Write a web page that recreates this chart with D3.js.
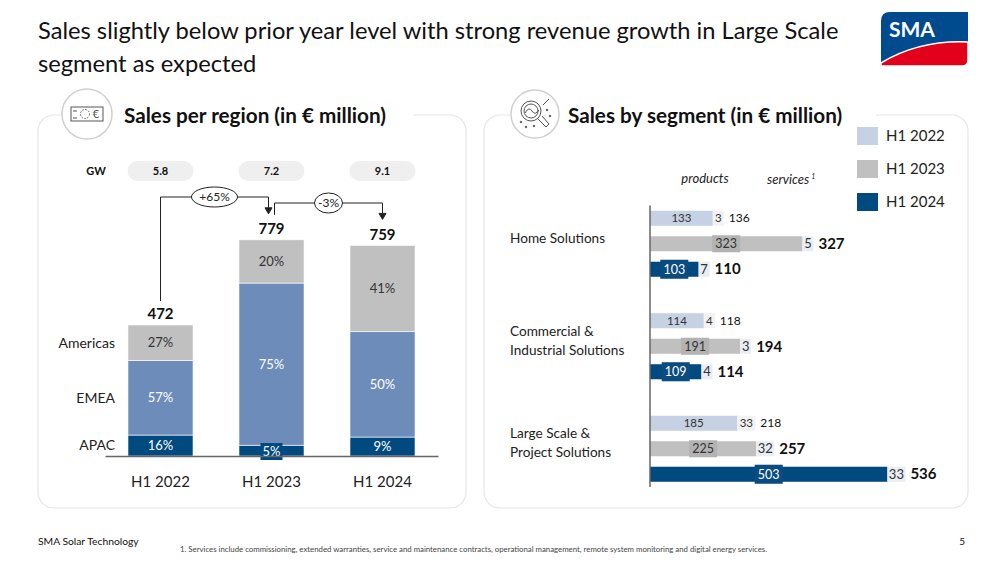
<!DOCTYPE html>
<html>
  <head>
    <title>SMA sales H1 2024</title>
    <script src="https://d3js.org/d3.v7.min.js"></script>
    <style>
      body { margin: 0; background: #fff; }
      svg { display: block; font-family: Lato, 'Noto Sans', sans-serif; }
    </style>
  </head>
  <body>
    <svg width="1000" height="563"></svg>

    <script>
      (function (d3) {
        'use strict';

        // ---- data ----
        const years = ['H1 2022', 'H1 2023', 'H1 2024'];
        const gwValues = ['5.8', '7.2', '9.1'];
        const regionTotals = [472, 779, 759];
        const regions = ['APAC', 'EMEA', 'Americas'];
        const apacShare = [16, 5, 9];
        const emeaShare = [57, 75, 50];
        const americasShare = [27, 20, 41];
        const growthLabels = ['+65%', '-3%'];

        const segments = ['Home Solutions', 'Commercial & Industrial Solutions', 'Large Scale & Project Solutions'];
        const segmentLines = [['Home Solutions'], ['Commercial &', 'Industrial Solutions'], ['Large Scale &', 'Project Solutions']];
        const homeProducts = [133, 323, 103];
        const homeServices = [3, 5, 7];
        const homeTotals = [136, 327, 110];
        const ciProducts = [114, 191, 109];
        const ciServices = [4, 3, 4];
        const ciTotals = [118, 194, 114];
        const lsProducts = [185, 225, 503];
        const lsServices = [33, 32, 33];
        const lsTotals = [218, 257, 536];

        const svg = d3.select('svg');

        const colorRegion = { APAC: '#004a7f', EMEA: '#6d8cb9', Americas: '#c0c0c0' };
        const colorYear = d3.scaleOrdinal().domain(years).range(['#c6d1e3', '#c0c0c0', '#004a7f']);

        // ---- header ----
        const title = svg.append('g').attr('fill', '#111').style('font-size', '23.7px');
        title.append('text').attr('x', 38).attr('y', 39)
          .text('Sales slightly below prior year level with strong revenue growth in Large Scale');
        title.append('text').attr('x', 38).attr('y', 72).text('segment as expected');

        // logo
        const logo = svg.append('g').attr('transform', 'translate(881,12)');
        const lw = 87, lh = 54;
        logo.append('path')
          .attr('d', `M0,9 Q0,0 9,0 L${lw},0 L${lw},${lh - 6} Q${lw},${lh} ${lw - 6},${lh} L0,${lh} Z`)
          .attr('fill', '#004b8d');
        logo.append('path')
          .attr('d', `M0,${lh - 3} Q38,${lh - 26} ${lw},${lh - 24} L${lw},${lh - 6} Q${lw},${lh} ${lw - 6},${lh} L0,${lh} Z`)
          .attr('fill', '#e2001a').attr('stroke', '#fff').attr('stroke-width', 1.5);
        logo.append('text').attr('x', 8).attr('y', 25).attr('fill', '#fff')
          .style('font-weight', 'bold').style('font-size', '21px').text('SMA');

        // ---- cards ----
        function card(x0, x1, iconCx, iconR, titleX, gapEnd, titleText, iconKind) {
          svg.append('rect').attr('x', x0).attr('y', 115).attr('width', x1 - x0).attr('height', 393)
            .attr('rx', 16).attr('fill', 'none').attr('stroke', '#e6e6e6').attr('stroke-width', 1.2);
          svg.append('rect').attr('x', iconCx - iconR).attr('y', 110).attr('width', gapEnd - iconCx + iconR)
            .attr('height', 10).attr('fill', '#fff');
          svg.append('circle').attr('cx', iconCx).attr('cy', 114).attr('r', iconR)
            .attr('fill', '#fff').attr('stroke', '#d0d0d0').attr('stroke-width', 1.5);
          const ic = svg.append('g').attr('transform', `translate(${iconCx},114)`)
            .attr('fill', 'none').attr('stroke', '#555').attr('stroke-width', 1);
          if (iconKind === 'money') {
            ic.append('rect').attr('x', -16).attr('y', -7).attr('width', 32).attr('height', 14);
            ic.append('circle').attr('cx', -2).attr('cy', 0).attr('r', 4.5).attr('stroke-dasharray', '1.5,1.5');
            ic.append('text').attr('x', 9).attr('y', 4).attr('stroke', 'none').attr('fill', '#555')
              .attr('text-anchor', 'middle').style('font-size', '11px').text('€');
            ic.append('line').attr('x1', -14).attr('x2', -10).attr('y1', -3).attr('y2', -3);
            ic.append('line').attr('x1', -14).attr('x2', -10).attr('y1', 4).attr('y2', 4);
          } else {
            ic.append('circle').attr('cx', -4).attr('cy', -3).attr('r', 10);
            ic.append('circle').attr('cx', -4).attr('cy', -3).attr('r', 7);
            ic.append('path').attr('d', 'M-10,-1 Q-6,-8 -3,-3 T4,-4');
            ic.append('path').attr('d', 'M3,5 L11,13 L14,10 L7,2');
            ic.append('path').attr('d', 'M8,-9 L14,-15');
            [[-14, 8], [-9, 13], [12, -4], [15, 2], [-1, 12]].forEach((p) =>
              ic.append('circle').attr('cx', p[0]).attr('cy', p[1]).attr('r', 0.8).attr('fill', '#555'));
          }
          svg.append('text').attr('x', titleX).attr('y', 116).attr('dy', '0.35em')
            .attr('fill', '#111').style('font-weight', 'bold').style('font-size', '20.7px').text(titleText);
        }
        card(38, 466, 87, 25, 124, 413, 'Sales per region (in € million)', 'money');
        card(484, 968, 535, 24, 568, 876, 'Sales by segment (in € million)', 'search');

        // ---- left chart: sales per region ----
        const baseY = 456;
        const x = d3.scaleBand().domain(years).range([105, 438]).paddingInner(0.414).paddingOuter(0.207);
        const y = d3.scaleLinear().domain([0, 800]).range([baseY, baseY - 222]);

        const shares = { APAC: apacShare, EMEA: emeaShare, Americas: americasShare };
        const regionRows = years.map((yr, i) => {
          const row = { year: yr, total: regionTotals[i] };
          regions.forEach((r) => (row[r] = (regionTotals[i] * shares[r][i]) / 100));
          return row;
        });
        const stacked = d3.stack().keys(regions)(regionRows);

        const left = svg.append('g');

        // GW pills
        left.append('text').attr('x', 96).attr('y', 171).attr('dy', '0.35em').attr('text-anchor', 'middle')
          .style('font-size', '11px').style('font-weight', 'bold').attr('fill', '#111').text('GW');
        const pills = left.selectAll('.pill').data(years).enter().append('g').attr('class', 'pill');
        pills.append('rect').attr('x', (d) => x(d) + x.bandwidth() / 2 - 33).attr('y', 161)
          .attr('width', 66).attr('height', 20).attr('rx', 10).attr('fill', '#efefef');
        pills.append('text').attr('x', (d) => x(d) + x.bandwidth() / 2).attr('y', 171).attr('dy', '0.35em')
          .attr('text-anchor', 'middle').style('font-size', '11px').style('font-weight', 'bold')
          .attr('fill', '#111').text((d, i) => gwValues[i]);

        // bars
        const layer = left.selectAll('.layer').data(stacked).enter().append('g')
          .attr('fill', (d) => colorRegion[d.key]);
        layer.selectAll('rect').data((d) => d).enter().append('rect')
          .attr('x', (d) => x(d.data.year)).attr('width', x.bandwidth())
          .attr('y', (d) => y(d[1])).attr('height', (d) => y(d[0]) - y(d[1]))
          .attr('stroke', '#fff').attr('stroke-width', 0.6);

        // percent labels
        stacked.forEach((s) => {
          s.forEach((d, i) => {
            const cx = x(d.data.year) + x.bandwidth() / 2;
            const h = y(d[0]) - y(d[1]);
            let cy = (y(d[0]) + y(d[1])) / 2;
            if (h < 14) {
              cy = y(d[0]) - 5;
              left.append('rect').attr('x', cx - 11).attr('y', cy - 8).attr('width', 22).attr('height', 17)
                .attr('fill', colorRegion[s.key]);
            }
            left.append('text').attr('x', cx).attr('y', cy).attr('dy', '0.35em').attr('text-anchor', 'middle')
              .style('font-size', '13px').attr('fill', s.key === 'Americas' ? '#333' : '#fff')
              .text(shares[s.key][i] + '%');
          });
        });

        // region labels next to first bar
        stacked.forEach((s) => {
          const d = s[0];
          left.append('text').attr('x', 115).attr('y', (y(d[0]) + y(d[1])) / 2).attr('dy', '0.35em')
            .attr('text-anchor', 'end').style('font-size', '14px').attr('fill', '#222').text(s.key);
        });

        // totals
        left.selectAll('.total').data(regionRows).enter().append('text')
          .attr('x', (d) => x(d.year) + x.bandwidth() / 2).attr('y', (d) => y(d.total) - 11)
          .attr('dy', '0.35em').attr('text-anchor', 'middle')
          .style('font-size', '15px').style('font-weight', 'bold').attr('fill', '#111')
          .text((d) => d.total);

        // axis
        const xAxisG = left.append('g').attr('transform', `translate(0,${baseY})`)
          .call(d3.axisBottom(x).tickSize(0).tickSizeOuter(0).tickPadding(20));
        xAxisG.select('.domain').attr('stroke', '#666').attr('stroke-width', 1.5);
        xAxisG.selectAll('text').style('font-size', '15px').style('font-family', 'Lato, sans-serif').attr('fill', '#222');

        // growth connectors
        const arrow = (xe, ye) => `M${xe - 3.5},${ye - 6} L${xe + 3.5},${ye - 6} L${xe},${ye} Z`;
        const conn = left.append('g').attr('fill', 'none').attr('stroke', '#222').attr('stroke-width', 1);
        const c1x0 = x(years[0]) + x.bandwidth() / 2;
        const c1x1 = x(years[1]) + x.bandwidth() / 2 - 3;
        const c1y0 = y(regionTotals[0]) - 24;
        const c1y1 = y(regionTotals[1]) - 26;
        conn.append('path').attr('d', `M${c1x0},${c1y0} V197 H${c1x1} V${c1y1 - 6}`);
        conn.append('path').attr('d', arrow(c1x1, c1y1)).attr('fill', '#222');
        const c2x0 = x(years[1]) + x.bandwidth() / 2 + 3;
        const c2x1 = x(years[2]) + x.bandwidth() / 2;
        const c2y1 = y(regionTotals[2]) - 26;
        conn.append('path').attr('d', `M${c2x0},${c1y1 + 1} V203 H${c2x1} V${c2y1 - 6}`);
        conn.append('path').attr('d', arrow(c2x1, c2y1)).attr('fill', '#222');

        [[(c1x0 + c1x1) / 2, 197, 23, growthLabels[0]], [(c2x0 + c2x1) / 2, 203, 14, growthLabels[1]]]
          .forEach((e) => {
            left.append('ellipse').attr('cx', e[0]).attr('cy', e[1]).attr('rx', e[2]).attr('ry', 10)
              .attr('fill', '#fff').attr('stroke', '#222').attr('stroke-width', 1);
            left.append('text').attr('x', e[0]).attr('y', e[1]).attr('dy', '0.35em').attr('text-anchor', 'middle')
              .style('font-size', '12px').attr('fill', '#222').text(e[3]);
          });

        // ---- right chart: sales by segment ----
        const right = svg.append('g');
        const segData = [
          { name: segments[0], products: homeProducts, services: homeServices, totals: homeTotals },
          { name: segments[1], products: ciProducts, services: ciServices, totals: ciTotals },
          { name: segments[2], products: lsProducts, services: lsServices, totals: lsTotals },
        ];

        const yGroup = d3.scaleBand().domain(segments).range([192.5, 500]);
        const yYear = d3.scaleBand().domain(years).range([0, yGroup.bandwidth()])
          .paddingInner(0.41).paddingOuter(0.715);
        const xs = d3.scaleLinear().domain([0, 550]).range([650, 650 + 550 * 0.472]);

        // group labels
        segData.forEach((s, gi) => {
          const lines = segmentLines[gi];
          const cy = yGroup(s.name) + yGroup.bandwidth() / 2 - 6;
          lines.forEach((ln, li) => {
            right.append('text').attr('x', 510).attr('y', cy + (li - (lines.length - 1) / 2) * 19)
              .attr('dy', '0.35em').style('font-size', '13.6px').attr('fill', '#222').text(ln);
          });
        });

        const bh = yYear.bandwidth();
        segData.forEach((s) => {
          const g = right.append('g').attr('transform', `translate(0,${yGroup(s.name)})`);
          years.forEach((yr, i) => {
            const top = yYear(yr);
            const cy = top + bh / 2;
            const p = s.products[i], sv = s.services[i];
            const px = xs(p);
            g.append('rect').attr('x', xs(0)).attr('y', top).attr('width', px - xs(0)).attr('height', bh)
              .attr('fill', colorYear(yr));

            // product label
            const pcx = (xs(0) + px) / 2;
            if (i > 0) {
              const extra = i === 2 ? 2 : 1;
              g.append('rect').attr('x', pcx - 14).attr('y', top - extra).attr('width', 28)
                .attr('height', bh + 2 * extra).attr('fill', i === 2 ? '#0a4b80' : '#b3b3b3');
            }
            g.append('text').attr('x', pcx).attr('y', cy).attr('dy', '0.35em').attr('text-anchor', 'middle')
              .style('font-size', i === 0 ? '11.5px' : '12.5px')
              .attr('fill', i === 2 ? '#fff' : '#333').text(p);

            // services box + label
            const svTxt = String(sv);
            const boxW = Math.max(xs(sv) - xs(0), svTxt.length * 7 + 4);
            g.append('rect').attr('x', px).attr('y', top).attr('width', boxW).attr('height', bh)
              .attr('fill', i === 0 ? '#f2f2f2' : '#e9edf4');
            g.append('text').attr('x', px + boxW / 2).attr('y', cy).attr('dy', '0.35em')
              .attr('text-anchor', 'middle').style('font-size', i === 0 ? '11.5px' : '13px')
              .attr('fill', '#333').text(svTxt);

            // total
            g.append('text').attr('x', px + boxW + 5).attr('y', cy).attr('dy', '0.35em')
              .style('font-size', i === 0 ? '12px' : '15px').style('font-weight', i === 0 ? 'normal' : 'bold')
              .attr('fill', '#111').text(s.totals[i]);
          });
        });

        // vertical axis line
        right.append('line').attr('x1', xs(0)).attr('x2', xs(0))
          .attr('y1', yGroup.range()[0] + 13).attr('y2', yGroup.range()[1] - 13)
          .attr('stroke', '#666').attr('stroke-width', 1.5);

        // column headers
        right.append('text').attr('x', 705).attr('y', 178).attr('dy', '0.35em').attr('text-anchor', 'middle')
          .style('font-size', '13px').style('font-style', 'italic').attr('fill', '#222').text('products');
        const sh = right.append('text').attr('x', 767).attr('y', 179).attr('dy', '0.35em')
          .style('font-size', '13px').style('font-style', 'italic').attr('fill', '#222');
        sh.append('tspan').text('services');
        sh.append('tspan').attr('dy', '-0.6em').attr('dx', '2').style('font-size', '7px').text('1');

        // legend
        const legend = right.selectAll('.lg').data(years).enter().append('g')
          .attr('transform', (d, i) => `translate(857,${127 + i * 33})`);
        legend.append('rect').attr('width', 21).attr('height', 18).attr('fill', (d) => colorYear(d));
        legend.append('text').attr('x', 29).attr('y', 9).attr('dy', '0.35em')
          .style('font-size', '15px').attr('fill', '#222').text((d) => d);

        // ---- footer ----
        svg.append('text').attr('x', 38).attr('y', 541).attr('dy', '0.35em')
          .style('font-size', '10.3px').attr('fill', '#111').text('SMA Solar Technology');
        svg.append('text').attr('x', 180).attr('y', 549).attr('dy', '0.35em')
          .style('font-size', '7.8px').attr('fill', '#444')
          .text('1.    Services include commissioning, extended warranties, service and maintenance contracts, operational management, remote system monitoring and digital energy services.');
        svg.append('text').attr('x', 965).attr('y', 541).attr('dy', '0.35em').attr('text-anchor', 'end')
          .style('font-size', '10px').attr('fill', '#111').text('5');
      })(d3);
    </script>
  </body>
</html>
